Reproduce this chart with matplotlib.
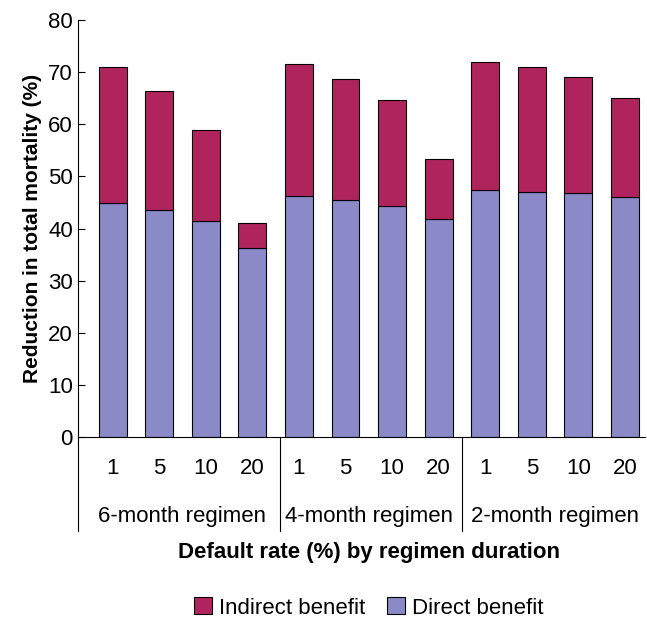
import matplotlib.pyplot as plt

plt.rcParams['font.family'] = ['Liberation Sans', 'DejaVu Sans']

groups = ['6-month regimen', '4-month regimen', '2-month regimen']
rates = ['1', '5', '10', '20']
direct = [45, 43.5, 41.5, 36.3, 46.2, 45.5, 44.3, 41.8, 47.5, 47, 46.8, 46]
total = [71, 66.5, 59, 41, 71.5, 68.7, 64.6, 53.3, 72, 71, 69, 65]
indirect = [t - d for t, d in zip(total, direct)]

fig = plt.figure(figsize=(6.47, 6.23), dpi=100)
ax = fig.add_axes([0.12, 0.2986, 0.877, 0.669])
x = list(range(12))
ax.bar(x, direct, width=0.6, color='#8A8AC8', edgecolor='black', linewidth=0.8, label='Direct benefit')
ax.bar(x, indirect, bottom=direct, width=0.6, color='#B0245E', edgecolor='black', linewidth=0.8,
       label='Indirect benefit')

ax.set_xlim(-0.75, 11.43)
ax.set_ylim(0, 80)
ax.set_yticks(range(0, 81, 10))
ax.tick_params(axis='y', labelsize=16, direction='in', length=5)
ax.set_xticks([])
for s in ['top', 'right']:
    ax.spines[s].set_visible(False)
ax.set_ylabel('Reduction in total mortality (%)', fontsize=15, fontweight='bold')

tr = ax.get_xaxis_transform()
for i in x:
    ax.text(i, -0.075, rates[i % 4], transform=tr, ha='center', va='center', fontsize=16)
for g, name in enumerate(groups):
    ax.text(g * 4 + 1.5, -0.19, name, transform=tr, ha='center', va='center', fontsize=16)
for xs in [-0.75, 3.6, 7.5]:
    ax.plot([xs, xs], [0, -0.225], transform=tr, color='black', linewidth=0.8, clip_on=False)

fig.text(0.57, 0.113, 'Default rate (%) by regimen duration', ha='center', va='center',
         fontsize=16, fontweight='bold')
h, l = ax.get_legend_handles_labels()
fig.legend(h[::-1], l[::-1], loc='center', bbox_to_anchor=(0.57, 0.024), ncol=2, frameon=False,
           fontsize=16, handlelength=0.8, handleheight=0.8, columnspacing=1.0, handletextpad=0.3)
fig.savefig('out.png')
